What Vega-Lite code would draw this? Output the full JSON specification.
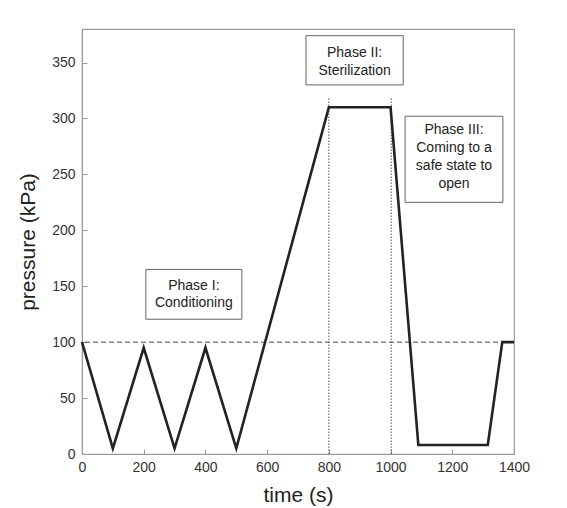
{
  "$schema": "https://vega.github.io/schema/vega-lite/v6.json",
  "width": 432,
  "height": 425,
  "autosize": {"type": "none"},
  "padding": {"left": 82, "top": 29, "right": 53, "bottom": 54},
  "background": "white",
  "config": {
    "font": "Liberation Sans",
    "view": {"stroke": "#9a9a9a", "strokeWidth": 1.2},
    "axis": {
      "grid": false,
      "domainColor": "#9a9a9a",
      "tickColor": "#9a9a9a",
      "tickSize": -5,
      "labelFontSize": 14,
      "labelColor": "#333",
      "labelFlush": false,
      "titleFontSize": 21,
      "titleFontWeight": "normal",
      "titleColor": "#222"
    }
  },
  "datasets": {
    "profile": [
      {"t": 0, "p": 100},
      {"t": 100, "p": 5},
      {"t": 200, "p": 95},
      {"t": 300, "p": 5},
      {"t": 400, "p": 95},
      {"t": 500, "p": 5},
      {"t": 800, "p": 310},
      {"t": 1000, "p": 310},
      {"t": 1090, "p": 8},
      {"t": 1315, "p": 8},
      {"t": 1362, "p": 100},
      {"t": 1400, "p": 100}
    ],
    "vlines": [
      {"t": 800, "p0": 0, "p1": 319},
      {"t": 1002, "p0": 0, "p1": 319}
    ],
    "boxes": [
      {"x0": 207, "x1": 518, "y0": 120.5, "y1": 165, "xc": 362.5, "yc": 150.5, "label": ["Phase I:", "Conditioning"]},
      {"x0": 726, "x1": 1041, "y0": 330, "y1": 374, "xc": 883.5, "yc": 358.5, "label": ["Phase II:", "Sterilization"]},
      {"x0": 1047, "x1": 1364, "y0": 225, "y1": 302, "xc": 1205.5, "yc": 289.3, "label": ["Phase III:", "Coming to a", "safe state to", "open"]}
    ]
  },
  "layer": [
    {
      "data": {"values": [{"p": 100}]},
      "mark": {"type": "rule", "strokeDash": [5, 3], "color": "#333", "strokeWidth": 0.9},
      "encoding": {"y": {"field": "p", "type": "quantitative"}}
    },
    {
      "data": {"name": "vlines"},
      "mark": {"type": "rule", "strokeDash": [1.5, 1.5], "color": "#555", "strokeWidth": 1},
      "encoding": {
        "x": {"field": "t", "type": "quantitative"},
        "y": {"field": "p0", "type": "quantitative"},
        "y2": {"field": "p1"}
      }
    },
    {
      "data": {"name": "profile"},
      "mark": {"type": "line", "color": "#222", "strokeWidth": 2.6, "strokeJoin": "miter"},
      "encoding": {
        "x": {
          "field": "t", "type": "quantitative",
          "scale": {"domain": [0, 1400], "nice": false},
          "axis": {"values": [0, 200, 400, 600, 800, 1000, 1200, 1400], "format": "d", "title": "time (s)", "labelPadding": 11, "titlePadding": 10}
        },
        "y": {
          "field": "p", "type": "quantitative",
          "scale": {"domain": [0, 380], "nice": false},
          "axis": {"values": [0, 50, 100, 150, 200, 250, 300, 350], "format": "d", "title": "pressure (kPa)", "labelPadding": 12, "titlePadding": 13}
        }
      }
    },
    {
      "data": {"name": "boxes"},
      "mark": {"type": "rect", "fill": "white", "stroke": "#666", "strokeWidth": 1},
      "encoding": {
        "x": {"field": "x0", "type": "quantitative"},
        "x2": {"field": "x1"},
        "y": {"field": "y0", "type": "quantitative"},
        "y2": {"field": "y1"}
      }
    },
    {
      "data": {"name": "boxes"},
      "mark": {"type": "text", "fontSize": 14, "color": "#222", "align": "center", "baseline": "middle", "lineHeight": 17.7},
      "encoding": {
        "x": {"field": "xc", "type": "quantitative"},
        "y": {"field": "yc", "type": "quantitative"},
        "text": {"field": "label"}
      }
    }
  ]
}
